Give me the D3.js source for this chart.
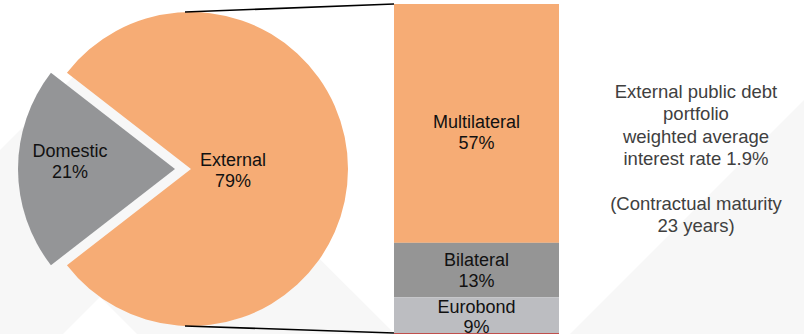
<!DOCTYPE html>
<html><head><meta charset="utf-8">
<script src="https://cdn.jsdelivr.net/npm/d3@7"></script>
<style>html,body{margin:0;padding:0;background:#fff;overflow:hidden}svg{display:block}</style>
</head><body>
<svg id="c" width="804" height="334"></svg>
<script>
const pieCategories = ["External", "Domestic"];
const pieValues = [79, 21];
const pieColors = ["#F6AC75", "#949597"];
const barCategories = ["Multilateral", "Bilateral", "Eurobond"];
const barValues = [57, 13, 9];
const barColors = ["#F6AC75", "#959595", "#BCBDC1"];
const noteLines = ["External public debt", "portfolio", "weighted average", "interest rate 1.9%", "", "(Contractual maturity", "23 years)"];

const W = 804, H = 334;
const svg = d3.select("#c");
const font = "'Liberation Sans', Arial, sans-serif";

// background decoration
const bg = svg.append("g");
bg.append("path").attr("fill", "#F7F7F7")
  .attr("d", d3.line()([[105, 45], [0, 150], [0, 334], [63, 334], [100, 297], [137, 334], [395, 334], [395, 334]]) + "Z");
bg.append("path").attr("fill", "#F7F7F7")
  .attr("d", d3.line()([[570, 334], [804, 100], [804, 334]]) + "Z");

// pie
const cx = 191, cy = 169, r = 157, explode = 16;
const pie = d3.pie().sort(null)
  .startAngle(-0.29 * Math.PI).endAngle(1.71 * Math.PI);
const arcs = pie(pieValues);
const arc = d3.arc().innerRadius(0).outerRadius(r);
const pg = svg.append("g").attr("transform", `translate(${cx},${cy})`);
arcs.forEach((a, i) => {
  const mid = (a.startAngle + a.endAngle) / 2;
  const off = i === 1 ? explode : 0;
  const dx = Math.sin(mid) * off, dy = -Math.cos(mid) * off;
  const g = pg.append("g").attr("transform", `translate(${dx},${dy})`);
  g.append("path").attr("d", arc(a)).attr("fill", pieColors[i]);
  const lr = i === 1 ? 105 : 42;
  const lx = Math.sin(mid) * lr, ly = -Math.cos(mid) * lr + (i === 1 ? -8 : 1);
  const t = g.append("text").attr("x", lx).attr("y", ly)
    .attr("text-anchor", "middle").attr("font-family", font).attr("font-size", 18).attr("fill", "#111");
  t.append("tspan").attr("x", lx).attr("dy", "-0.2em").text(pieCategories[i]);
  t.append("tspan").attr("x", lx).attr("dy", "1.15em").text(pieValues[i] + "%");
});

// stacked bar
const total = d3.sum(barValues);
const y = d3.scaleLinear().domain([0, total]).range([4, 335]);
const x = d3.scaleBand().domain(["External"]).range([394, 559]).padding(0);
let acc = 0;
const stack = barValues.map((v, i) => { const s = { v, i, y0: acc, y1: acc + v }; acc += v; return s; });
const bgG = svg.append("g");
bgG.selectAll("rect").data(stack).join("rect")
  .attr("x", x("External")).attr("width", x.bandwidth())
  .attr("y", d => y(d.y0)).attr("height", d => y(d.y1) - y(d.y0))
  .attr("fill", d => barColors[d.i]);
stack.forEach(d => {
  const mx = x("External") + x.bandwidth() / 2;
  const my = (y(d.y0) + y(d.y1)) / 2 + (d.i === 0 ? 8 : 0);
  const t = bgG.append("text").attr("x", mx).attr("y", my)
    .attr("text-anchor", "middle").attr("font-family", font).attr("font-size", 18).attr("fill", "#111");
  t.append("tspan").attr("x", mx).attr("dy", "-0.2em").text(barCategories[d.i]);
  t.append("tspan").attr("x", mx).attr("dy", "1.15em").text(d.v + "%");
});
svg.append("line").attr("x1", x("External")).attr("x2", x("External") + x.bandwidth())
  .attr("y1", 333.5).attr("y2", 333.5).attr("stroke", "#C0504D").attr("stroke-width", 1);

// connectors
const conn = svg.append("g").attr("stroke", "#000").attr("stroke-width", 1.6);
conn.append("line").attr("x1", cx - 6).attr("y1", cy - r).attr("x2", x("External")).attr("y2", y(0));
conn.append("line").attr("x1", cx - 6).attr("y1", cy + r).attr("x2", x("External")).attr("y2", 333);

// note
const nt = svg.append("text").attr("text-anchor", "middle").attr("font-family", font)
  .attr("font-size", 18.5).attr("fill", "#404040");
noteLines.forEach((l, i) => {
  nt.append("tspan").attr("x", 696).attr("y", 98 + i * 22.3).text(l);
});
</script>
</body></html>
